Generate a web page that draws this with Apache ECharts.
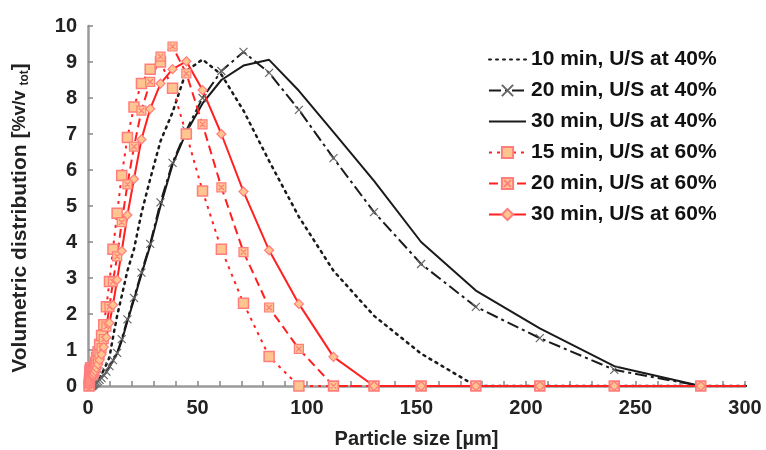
<!DOCTYPE html>
<html><head><meta charset="utf-8">
<script src="https://cdn.jsdelivr.net/npm/echarts@6/dist/echarts.min.js"></script>
<style>html,body{margin:0;padding:0;background:#fff}#c{width:766px;height:450px}</style>
</head><body><div id="c"></div>
<script>
// particle size bins (µm)
const sizes = [0.5,0.6,0.7,0.8,0.9,1.0,1.2,1.4,1.6,1.9,2.2,2.5,2.9,
  3.4,3.9,4.6,5.3,6.2,7.2,
  8.4,9.8,11.4,13.3,15.4,18.0,21.0,24.4,28.4,
  33.1,38.6,44.9,52.3,60.9,71.0,82.7,96.3,
  112.1,130.6,152.1,177.1,206.3,240.3,279.8,326.0];

const names = ['10 min, U/S at 40%','20 min, U/S at 40%','30 min, U/S at 40%',
               '15 min, U/S at 60%','20 min, U/S at 60%','30 min, U/S at 60%'];

const us40_10 = [0,0,0,0,0,0,0,0,0,0,0,0.02,0.04,
  0.06,0.1,0.15,0.22,0.32,0.45,
  0.6,0.8,1.35,1.95,2.5,3.2,3.8,4.8,5.75,
  6.8,7.6,8.75,9.07,8.65,7.65,6.25,4.7,
  3.2,1.95,0.9,0,0,0,0,0];
const us40_20 = [0,0,0,0,0,0,0,0,0,0,0.02,0.04,0.06,
  0.08,0.1,0.13,0.17,0.22,0.3,
  0.4,0.55,0.72,0.92,1.3,1.85,2.45,3.15,3.95,
  5.1,6.2,7.1,8.0,8.75,9.28,8.7,7.67,
  6.33,4.83,3.39,2.2,1.33,0.45,0,0];
const us40_30 = [0,0,0,0,0,0,0,0,0,0.02,0.04,0.06,0.08,
  0.1,0.12,0.15,0.18,0.23,0.3,
  0.38,0.52,0.7,0.9,1.25,1.8,2.4,3.1,3.9,
  5.0,6.15,7.05,7.85,8.5,8.9,9.06,8.2,
  7.05,5.7,4.0,2.65,1.6,0.55,0,0];
const us60_15 = [0,0.1,0.2,0.3,0.4,0.45,0.5,0.5,0.45,0.4,0.4,0.45,0.55,
  0.65,0.8,0.95,1.15,1.4,1.7,
  2.2,2.9,3.8,4.8,5.85,6.9,7.75,8.4,8.8,
  9.0,8.27,7.0,5.42,3.8,2.3,0.82,0,
  0,0,0,0,0,0,0,0];
const us60_20 = [0,0.08,0.15,0.2,0.25,0.3,0.35,0.35,0.35,0.3,0.3,0.35,0.4,
  0.5,0.6,0.72,0.87,1.05,1.3,
  1.65,2.2,2.9,3.6,4.55,5.6,6.65,7.65,8.45,
  9.15,9.43,8.68,7.27,5.52,3.72,2.18,1.03,
  0,0,0,0,0,0,0,0];
const us60_30 = [0,0.05,0.1,0.15,0.2,0.25,0.3,0.3,0.3,0.28,0.28,0.3,0.35,
  0.42,0.5,0.6,0.72,0.88,1.08,
  1.35,1.75,2.25,2.95,3.75,4.75,5.75,6.85,7.7,
  8.4,8.8,9.02,8.22,7.0,5.4,3.77,2.28,
  0.81,0,0,0,0,0,0,0];

const xTicks = [0,50,100,150,200,250,300];
const yTicks = [0,1,2,3,4,5,6,7,8,9,10];

function pts(vals){ return sizes.map((s,i)=>[s, vals[i]]); }

const FONT = 'Liberation Sans, Arial, sans-serif';
const black = '#1a1a1a', red = '#ff2020', mFill = '#ffc58f', mEdge = '#ff7d7d';
const crossPath = 'path://M0,0L10,10M10,0L0,10';
const boxCross = 'path://M0,0L10,0L10,10L0,10ZM2,2L8,8M8,2L2,8';

const chart = echarts.init(document.getElementById('c'), null, {renderer:'canvas'});
chart.setOption({
  animation:false,
  backgroundColor:'#fff',
  grid:{left:88, right:21, top:26, bottom:64, containLabel:false, outerBoundsMode:'none'},
  legend:{
    orient:'vertical', left:483, top:44, itemWidth:37, itemHeight:14, itemGap:10,
    data:[
      {name:names[0], itemStyle:{opacity:0}},
      {name:names[1]},
      {name:names[2], itemStyle:{opacity:0}},
      {name:names[3]},
      {name:names[4]},
      {name:names[5]}
    ],
    textStyle:{fontFamily:FONT, fontWeight:'bold', fontSize:21, color:'#111', lineHeight:21}
  },
  xAxis:{
    type:'value', min:xTicks[0], max:xTicks[xTicks.length-1], interval:50,
    name:'Particle size [µm]', nameLocation:'middle', nameGap:43,
    nameTextStyle:{fontFamily:FONT, fontWeight:'bold', fontSize:20, color:'#222'},
    axisLine:{lineStyle:{color:'#9a9a9a', width:2.5}},
    axisTick:{inside:true, length:5, lineStyle:{color:'#888', width:1.5}},
    minorTick:{show:true, splitNumber:5, length:5, lineStyle:{color:'#888', width:1.5}},
    axisLabel:{fontFamily:FONT, fontWeight:'bold', fontSize:20, color:'#222', margin:12},
    splitLine:{show:false}
  },
  yAxis:{
    type:'value', min:yTicks[0], max:yTicks[yTicks.length-1], interval:1,
    name:'{a|Volumetric distribution [}{b|%v/v }{s|tot}{a|]}', nameLocation:'middle', nameGap:57,
    nameTextStyle:{fontFamily:FONT, fontWeight:'bold', fontSize:21, color:'#222', padding:[0,24,0,0],
      rich:{a:{fontFamily:FONT, fontWeight:'bold', fontSize:21, color:'#222'},
            b:{fontFamily:FONT, fontWeight:'bold', fontSize:18, color:'#222'},
            s:{fontFamily:FONT, fontWeight:'bold', fontSize:12, color:'#222', padding:[8,0,0,0]}}},
    axisLine:{show:true, lineStyle:{color:'#9a9a9a', width:2.5}},
    axisTick:{show:true, inside:true, length:5, lineStyle:{color:'#888', width:1.5}},
    axisLabel:{fontFamily:FONT, fontWeight:'bold', fontSize:20, color:'#222', margin:11},
    splitLine:{show:false}
  },
  series:[
    {name:names[0], type:'line', data:pts(us40_10), symbol:'none', clip:true,
     lineStyle:{color:black, width:2.5, type:[2,5], cap:'round'}, itemStyle:{color:black}},
    {name:names[1], type:'line', data:pts(us40_20), symbol:crossPath, symbolSize:8, clip:true,
     lineStyle:{color:black, width:2, type:[12,4,3,4]},
     itemStyle:{color:'#fff', borderColor:'#666', borderWidth:1.2}},
    {name:names[2], type:'line', data:pts(us40_30), symbol:'none', clip:true,
     lineStyle:{color:black, width:2}, itemStyle:{color:black}},
    {name:names[3], type:'line', data:pts(us60_15), symbol:'rect', symbolSize:10, clip:true,
     lineStyle:{color:red, width:2, type:[3,5]},
     itemStyle:{color:mFill, borderColor:mEdge, borderWidth:1.5}},
    {name:names[4], type:'line', data:pts(us60_20), symbol:boxCross, symbolSize:9, clip:true,
     lineStyle:{color:red, width:2, type:[9,5]},
     itemStyle:{color:mFill, borderColor:mEdge, borderWidth:1.2}},
    {name:names[5], type:'line', data:pts(us60_30), symbol:'diamond', symbolSize:9, clip:true,
     lineStyle:{color:red, width:2},
     itemStyle:{color:mFill, borderColor:mEdge, borderWidth:1.2}}
  ]
});
</script>
</body></html>
